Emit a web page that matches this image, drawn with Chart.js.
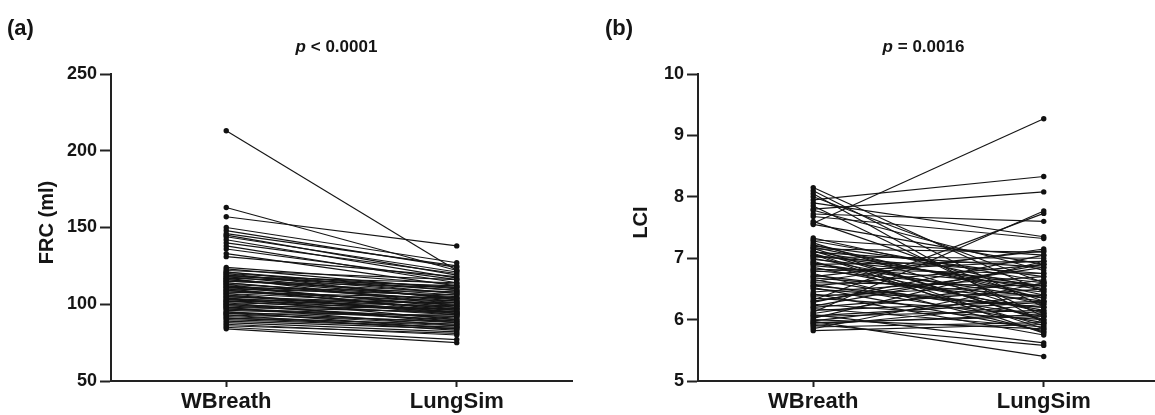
<!DOCTYPE html>
<html>
<head>
<meta charset="utf-8">
<script src="https://cdn.jsdelivr.net/npm/chart.js@4.4.1/dist/chart.umd.min.js"></script>
<style>
    html, body { margin: 0; padding: 0; background: #fff; overflow: hidden; }
    #wrap { position: relative; width: 1155px; height: 415px; overflow: hidden; }
    .panel { position: absolute; top: 0; width: 587px; height: 415px; }
</style>
</head>
<body>
<div id="wrap">
    <div class="panel" style="left:0"><canvas id="frc" width="587" height="415"></canvas></div>
    <div class="panel" style="left:587px"><canvas id="lci" width="587" height="415"></canvas></div>
</div>
<script>
// ####################### DATA #######################

var groups = ['WBreath', 'LungSim'];

// (a) FRC in ml, one entry per subject, same order in both arrays
var frcWBreath = [213, 163, 157, 150, 148, 146, 145, 144, 142, 140, 138, 136, 133, 131,
    124, 123, 122, 121, 120, 119, 118, 117, 116, 115, 114, 113, 112, 111, 110, 109,
    108, 107, 106, 105, 104, 103, 102, 101, 100, 99, 98, 97, 96, 95, 94, 93, 92, 91,
    90, 89, 88, 87, 86, 85, 84, 120, 117, 113, 110, 107, 104, 101, 98, 95, 93, 118,
    115, 111, 108, 105, 102, 99, 121, 119, 116, 114, 112, 109, 106, 103, 100, 97,
    94, 91];
var frcLungSim = [122, 122, 138, 127, 124, 125, 119, 121, 117, 120, 114, 116, 112, 118,
    113, 110, 116, 107, 111, 109, 104, 112, 106, 108, 101, 105, 103, 99, 106, 97,
    102, 100, 95, 98, 96, 101, 93, 97, 94, 91, 95, 90, 92, 88, 93, 89, 86, 87,
    85, 84, 82, 80, 81, 77, 75, 103, 99, 94, 96, 93, 90, 88, 86, 84, 83, 114,
    111, 108, 104, 100, 99, 97, 109, 107, 104, 102, 98, 101, 94, 95, 89, 92,
    87, 85];
var frcTicks = [50, 100, 150, 200, 250];

// (b) LCI
var lciWBreath = [8.15, 8.10, 8.05, 8.00, 7.95, 7.90, 7.85, 7.80, 7.78, 7.72, 7.68, 7.60,
    7.57, 7.55, 7.33, 7.30, 7.25, 7.20, 7.18, 7.15, 7.12, 7.10, 7.08, 7.05, 7.02, 7.00,
    6.98, 6.95, 6.92, 6.90, 6.85, 6.82, 6.80, 6.75, 6.72, 6.70, 6.65, 6.60, 6.58, 6.55,
    6.50, 6.45, 6.42, 6.40, 6.35, 6.32, 6.30, 6.25, 6.20, 6.18, 6.15, 6.12, 6.10, 6.08,
    6.05, 6.02, 6.00, 5.98, 5.97, 5.95, 5.92, 5.90, 5.88, 5.85, 5.82, 6.28, 6.55, 6.88,
    7.22, 6.62, 7.06, 7.28, 7.16, 7.03, 6.93, 6.78, 6.68, 6.52, 6.38, 6.22, 6.06, 5.94,
    7.11];
var lciLungSim = [6.45, 6.20, 5.95, 6.60, 8.33, 7.35, 6.05, 8.08, 6.80, 7.60, 7.32, 6.30,
    9.27, 6.90, 6.50, 7.05, 6.10, 6.70, 6.40, 7.10, 6.00, 6.85, 5.85, 6.55, 7.00, 6.25,
    6.60, 5.90, 6.35, 6.95, 6.15, 6.75, 6.45, 5.80, 6.30, 7.12, 6.05, 6.55, 5.95, 6.90,
    6.20, 6.70, 5.75, 6.40, 6.10, 7.73, 6.85, 6.00, 6.50, 5.88, 6.30, 7.77, 6.65, 5.62,
    6.15, 6.95, 5.85, 6.40, 5.40, 6.05, 5.58, 6.25, 5.95, 6.60, 5.92, 7.05, 6.20, 6.55,
    6.35, 7.15, 5.78, 6.62, 5.98, 6.75, 6.12, 6.95, 6.38, 5.82, 6.58, 6.90, 6.28, 6.08,
    6.48];
var lciTicks = [5, 6, 7, 8, 9, 10];

// ####################### DRAWING #######################

var FONT = '"Liberation Sans", Arial, Helvetica, sans-serif';
var INK = '#151515';

// panel letter, p value over the plot, rotated y title
var annotate = {
    id: 'annotate',
    afterDraw: function (chart, args, opts) {
        var ctx = chart.ctx;
        var area = chart.chartArea;
        ctx.save();
        ctx.fillStyle = INK;
        ctx.textBaseline = 'middle';

        ctx.font = 'bold 22px ' + FONT;
        ctx.textAlign = 'left';
        ctx.fillText(opts.letter, opts.letterX, 29);

        // p value: italic "p" then the rest
        var cx = (area.left + area.right) / 2 - 5;
        ctx.font = 'italic bold 17px ' + FONT;
        var w1 = ctx.measureText('p').width;
        ctx.font = 'bold 17px ' + FONT;
        var w2 = ctx.measureText(opts.pText).width;
        var x0 = cx - (w1 + w2) / 2;
        ctx.font = 'italic bold 17px ' + FONT;
        ctx.fillText('p', x0, 47);
        ctx.font = 'bold 17px ' + FONT;
        ctx.fillText(opts.pText, x0 + w1, 47);

        ctx.translate(opts.titleX, (area.top + area.bottom) / 2 - 5);
        ctx.rotate(-Math.PI / 2);
        ctx.textAlign = 'center';
        ctx.font = 'bold 20px ' + FONT;
        ctx.fillText(opts.yTitle, 0, 0);
        ctx.restore();
    }
};

function pairedChart(id, before, after, yTicks, extra) {
    var datasets = [];
    for (var i = 0; i < before.length; i++) {
        datasets.push({
            data: [{x: 1, y: before[i]}, {x: 2, y: after[i]}],
            showLine: true,
            borderColor: INK,
            borderWidth: 1.15,
            pointRadius: 2.7,
            pointBorderWidth: 0,
            pointBackgroundColor: '#111',
            clip: false
        });
    }

    return new Chart(document.getElementById(id), {
        type: 'scatter',
        data: {datasets: datasets},
        plugins: [annotate],
        options: {
            responsive: false,
            animation: false,
            events: [],
            layout: {padding: {top: 74, right: 15, left: 0, bottom: 0}},
            plugins: {
                legend: {display: false},
                tooltip: {enabled: false},
                annotate: extra
            },
            scales: {
                x: {
                    type: 'linear',
                    min: 0.5,
                    max: 2.5,
                    afterBuildTicks: function (scale) {
                        scale.ticks = [{value: 1}, {value: 2}];
                    },
                    afterFit: function (scale) { scale.height = 34; },
                    ticks: {
                        color: INK,
                        padding: 2,
                        font: {family: FONT, size: 22, weight: 'bold'},
                        callback: function (v) { return groups[v - 1]; }
                    },
                    grid: {drawOnChartArea: false, tickLength: 6, tickWidth: 2, tickColor: '#222'},
                    border: {color: '#222', width: 2}
                },
                y: {
                    min: yTicks[0],
                    max: yTicks[yTicks.length - 1],
                    afterBuildTicks: function (scale) {
                        scale.ticks = yTicks.map(function (v) { return {value: v}; });
                    },
                    afterFit: function (scale) { scale.width = 111; },
                    ticks: {
                        color: INK,
                        padding: 3,
                        font: {family: FONT, size: 18, weight: 'bold'}
                    },
                    grid: {drawOnChartArea: false, tickLength: 11, tickWidth: 2, tickColor: '#222'},
                    border: {color: '#222', width: 2}
                }
            }
        }
    });
}

pairedChart('frc', frcWBreath, frcLungSim, frcTicks,
    {letter: '(a)', letterX: 7, pText: ' < 0.0001', yTitle: 'FRC (ml)', titleX: 47});
pairedChart('lci', lciWBreath, lciLungSim, lciTicks,
    {letter: '(b)', letterX: 18, pText: ' = 0.0016', yTitle: 'LCI', titleX: 54});
</script>
</body>
</html>
